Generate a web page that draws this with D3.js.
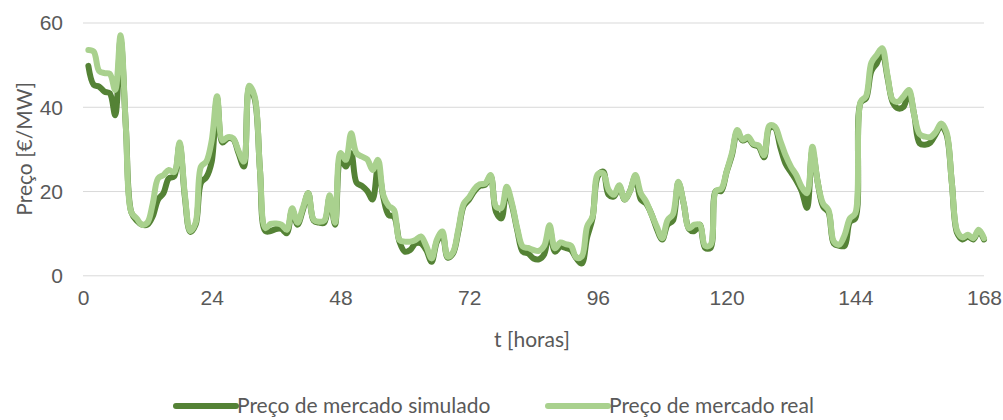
<!DOCTYPE html>
<html><head><meta charset="utf-8">
<script src="https://cdn.jsdelivr.net/npm/d3@7"></script>
<style>
html,body{margin:0;padding:0;background:#fff;}
svg{display:block;font-family:Lato,"Open Sans",sans-serif;}
</style></head>
<body><svg id="c" width="1003" height="420"></svg>
<script>
const hours = d3.range(1, 169);
const simulado = [
49.7,45.2,44.8,43.6,43.2,38,56,35,15,13,12,12,14,18,19.5,23,23.5,31,18.5,10.3,
12,22,23.3,27,42,31.5,32.5,32.3,29,25.8,44.5,42,25,10.5,10.5,11,11,10,15.5,12,
15.5,19.5,13,12.5,12.5,18.5,12,28,25.8,29,22,21.2,20,18,25.8,18.5,14.3,13.9,8,5.6,
6,7.6,7.6,6,3.2,8,9.6,4.2,5.2,10.5,16.5,18,20,21.2,21.5,23.5,15.1,13.5,20.3,16.5,
10.5,5.6,5.2,4,3.8,5,11.2,5.6,6.8,6.5,6,4,2.8,9,13.5,23.5,24.6,19.1,18.7,21,
18,20,23.5,18,17,14.5,11,8.5,12,13,22,17,11,10.5,12,6.5,6.5,20,20,24.5,
28.5,34,32,32.5,31,30.5,28,35,35,30.5,26.5,24.5,22.5,20,16,29.5,22,16.3,15,7.5,
7,7,12.7,13.5,41,42,48.5,50.3,53,47,41,39.6,40,43.5,38,31.3,31,31.5,33.5,35.5,
33.5,22,10,8.5,9.2,8.5,10.5,8.5];
const real = [
53.5,53.1,48.5,48,47.8,44,57,35,15,13.5,12,12.5,17,23,23.8,25,24.5,31.5,19,10.5,
12.5,25.8,27,32,42.5,32,32.8,32.5,29.5,27,45,42.5,25,11.2,12.2,12.3,12,10.8,15.9,12.5,
16,19.5,13.2,12.7,13,19,12.5,29,27.4,33.7,29,28.2,27.5,25,27.4,19,16.5,15.5,8.4,8,
8,8.4,9.2,7,4,8.5,10.4,4.4,5.5,11,17,18.5,20.5,21.6,21.8,23.8,16.3,16,21,17,
11,6.8,6.5,6,5.8,7,11.9,6.4,7.8,7.4,7,4.2,4.5,11.6,13.9,24,24.2,20.3,19.1,21.4,
18,20,23.8,19.5,17.5,14.5,11.5,8.8,13.1,14.5,22.2,17.1,11.2,12,12,7,7.2,20,20.5,24.6,
29,34.5,32.2,32.9,31.2,30.8,28.5,35.5,35.3,32,28.5,25.8,23.8,21,19.5,30.5,22,17,15.5,8,
7.3,9.5,13.5,14.7,41.2,42.5,50.5,52.3,53.9,47.5,41.6,41.2,42.5,44,38,33.5,32.9,32.8,34,36,
34,22,10.5,9,9.6,8.8,10.8,8.8];
const xTicks = [0, 24, 48, 72, 96, 120, 144, 168];
const yTicks = [0, 20, 40, 60];
const seriesNames = ["Preço de mercado simulado", "Preço de mercado real"];
const colors = ["#548235", "#a9d18e"];

const svg = d3.select("#c");
const L = 83, R = 984, T = 22.5, B = 275.3;
const x = d3.scaleLinear().domain([0, 168]).range([L, R]);
const y = d3.scaleLinear().domain([0, 60]).range([B, T]);
const txt = "#595959";
const fs = "21px";

// y axis + gridlines
const ya = svg.append("g").attr("transform", `translate(${L},0)`)
  .call(d3.axisLeft(y).tickValues(yTicks).tickSize(-(R - L)).tickPadding(20));
ya.select(".domain").remove();
ya.selectAll("line").attr("stroke", "#d9d9d9").attr("stroke-width", 1);
ya.selectAll("text").attr("fill", txt).style("font-size", fs).attr("dy", "0.35em");

// x axis labels
const xa = svg.append("g").attr("transform", `translate(0,${B})`)
  .call(d3.axisBottom(x).tickValues(xTicks).tickSize(0).tickPadding(15));
xa.select(".domain").remove();
xa.selectAll("text").attr("fill", txt).style("font-size", fs);

// titles
svg.append("text").attr("x", 532).attr("y", 347).attr("text-anchor", "middle")
  .attr("fill", txt).style("font-size", fs).text("t [horas]");
svg.append("text").attr("transform", `translate(32,${(T + B) / 2}) rotate(-90)`)
  .attr("text-anchor", "middle").attr("fill", txt).style("font-size", fs).text("Preço [€/MW]");

// lines
const line = d3.line().x((d, i) => x(hours[i])).y(d => y(d)).curve(d3.curveCatmullRom.alpha(0.5));
[simulado, real].forEach((s, k) => {
  svg.append("path").datum(s).attr("d", line).attr("fill", "none")
    .attr("stroke", colors[k]).attr("stroke-width", 6)
    .attr("stroke-linejoin", "round").attr("stroke-linecap", "round");
});

// legend
const legX = [176, 548];
seriesNames.forEach((n, k) => {
  const g = svg.append("g").attr("transform", `translate(${legX[k]},406)`);
  g.append("line").attr("x1", 0).attr("x2", 60).attr("y1", 0).attr("y2", 0)
    .attr("stroke", colors[k]).attr("stroke-width", 6).attr("stroke-linecap", "round");
  g.append("text").attr("x", 61).attr("y", 7).attr("fill", txt).style("font-size", fs).text(n);
});
</script></body></html>
